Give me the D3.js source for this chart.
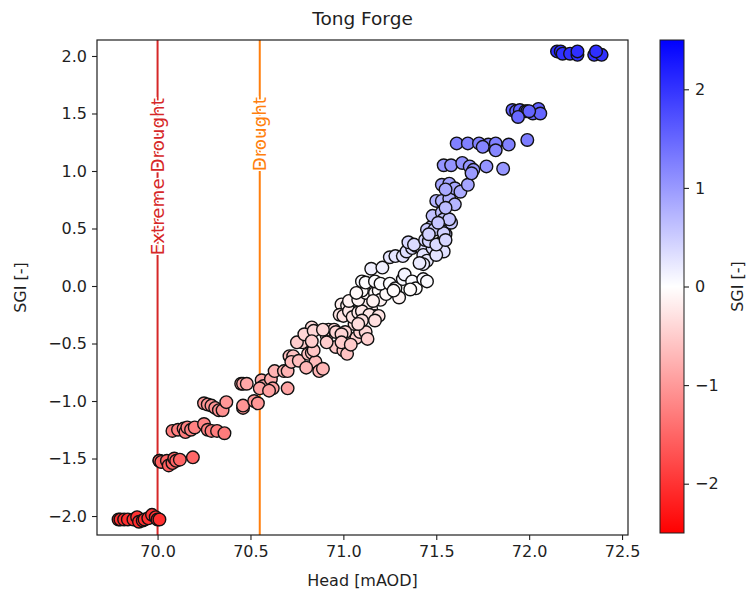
<!DOCTYPE html>
<html>
<head>
<meta charset="utf-8">
<script src="https://cdn.jsdelivr.net/npm/d3@7"></script>
<style>
  html, body { margin: 0; padding: 0; background: #fff; }
  svg { display: block; font-family: "DejaVu Sans", sans-serif; }
</style>
</head>
<body>
<svg id="chart" width="748" height="596"></svg>
<script>
// Groundwater head (mAOD) against Standardised Groundwater Index, Tong Forge
const head = [
  69.79, 69.80, 69.82, 69.84, 69.87, 69.89, 69.90, 69.92, 69.93, 69.95, 69.97, 69.99, 70.00, 70.01,
  70.01, 70.01, 70.02, 70.05, 70.06, 70.08, 70.09, 70.10, 70.12, 70.19,
  70.08, 70.11, 70.14, 70.15, 70.16, 70.18, 70.20, 70.25, 70.27, 70.29, 70.32, 70.36,
  70.25, 70.27, 70.29, 70.31, 70.33, 70.35, 70.37, 70.46, 70.46, 70.52, 70.54,
  70.45, 70.46, 70.48, 70.56, 70.57, 70.61, 70.55, 70.62, 70.60, 70.70, 70.63, 70.68, 70.70,
  70.71, 70.73, 70.72, 70.76, 70.81, 70.83, 70.85, 70.80, 70.87, 70.89, 70.84, 70.78, 70.75,
  70.83, 70.91, 70.92, 70.95, 70.96, 71.00, 71.02, 71.03, 71.07, 71.09, 71.06, 71.12, 71.13, 71.01,
  70.79, 70.84, 70.89, 70.96, 70.99, 70.83, 70.91, 70.99, 71.04,
  70.99, 71.02, 71.06, 71.09, 71.12, 71.15, 71.17, 71.10, 71.13, 70.98, 71.00, 71.03, 71.05, 71.08,
  71.10, 71.14, 71.19, 71.10, 71.17, 71.08,
  71.03, 71.08, 71.12, 71.17, 71.19, 71.20, 71.23, 71.16, 71.10, 71.07, 71.10, 71.12, 71.17, 71.20,
  71.25, 71.28, 71.30, 71.27, 71.32, 71.33, 71.37, 71.39, 71.36, 71.43, 71.45,
  71.15, 71.21, 71.25, 71.28, 71.32, 71.34, 71.37, 71.39, 71.42, 71.43, 71.45, 71.43, 71.41, 71.35,
  71.38, 71.48, 71.53, 71.54, 71.50,
  71.44, 71.46, 71.50, 71.47, 71.50, 71.53, 71.55, 71.55, 71.58, 71.45, 71.49, 71.54, 71.55, 71.46,
  71.48, 71.53, 71.54, 71.57, 71.51, 71.50, 71.53, 71.57, 71.60, 71.55, 71.53, 71.57, 71.60, 71.63,
  71.67, 71.55,
  71.54, 71.58, 71.64, 71.68, 71.70, 71.77, 71.86, 71.69,
  71.61, 71.67, 71.73, 71.78, 71.82, 71.89, 71.82, 71.75, 71.99,
  71.91, 71.93, 71.95, 71.98, 71.99, 72.02, 72.05, 72.06, 71.94, 72.00,
  72.15, 72.17, 72.18, 72.22, 72.26, 72.26, 72.35, 72.39, 72.36
];
const sgi = [
  -2.03, -2.03, -2.03, -2.03, -2.03, -2.01, -2.05, -2.04, -2.03, -2.02, -1.99, -2.01, -2.03, -2.03,
  -1.52, -1.52, -1.53, -1.52, -1.56, -1.54, -1.50, -1.52, -1.51, -1.49,
  -1.26, -1.25, -1.24, -1.27, -1.23, -1.25, -1.23, -1.20, -1.25, -1.26, -1.26, -1.28,
  -1.02, -1.03, -1.04, -1.06, -1.08, -1.08, -1.01, -1.06, -1.04, -1.00, -1.02,
  -0.85, -0.85, -0.85, -0.82, -0.87, -0.81, -0.89, -0.89, -0.91, -0.89, -0.74, -0.74, -0.74,
  -0.61, -0.61, -0.66, -0.65, -0.59, -0.58, -0.66, -0.71, -0.74, -0.72, -0.56, -0.49, -0.49,
  -0.36, -0.43, -0.38, -0.38, -0.53, -0.56, -0.59, -0.49, -0.45, -0.40, -0.33, -0.40, -0.46, -0.40,
  -0.42, -0.39, -0.38, -0.40, -0.42, -0.48, -0.49, -0.49, -0.51,
  -0.16, -0.17, -0.19, -0.16, -0.17, -0.20, -0.26, -0.25, -0.15, -0.25, -0.26, -0.22, -0.27, -0.23,
  -0.22, -0.25, -0.26, -0.30, -0.30, -0.33,
  -0.13, -0.12, -0.06, -0.06, -0.04, -0.12, -0.07, -0.13, -0.04, -0.06, 0.04, 0.03, 0.04, 0.02,
  0.02, -0.02, -0.10, -0.04, 0.06, 0.10, 0.04, -0.02, -0.03, 0.06, 0.04,
  0.15, 0.16, 0.25, 0.26, 0.26, 0.30, 0.33, 0.35, 0.33, 0.27, 0.22, 0.19, 0.20, 0.38,
  0.36, 0.33, 0.38, 0.30, 0.27,
  0.40, 0.39, 0.36, 0.51, 0.51, 0.48, 0.45, 0.53, 0.55, 0.49, 0.49, 0.46, 0.40, 0.45,
  0.61, 0.64, 0.58, 0.58, 0.55, 0.74, 0.74, 0.76, 0.71, 0.68, 0.88, 0.89, 0.85, 0.82,
  0.88, 0.84,
  1.05, 1.05, 1.07, 1.04, 1.01, 1.04, 1.02, 0.98,
  1.24, 1.24, 1.24, 1.23, 1.24, 1.23, 1.18, 1.21, 1.27,
  1.53, 1.52, 1.53, 1.52, 1.52, 1.50, 1.54, 1.50, 1.47, 1.52,
  2.04, 2.04, 2.02, 2.02, 2.01, 2.04, 2.01, 2.01, 2.04
];

// Drought thresholds on head
const thresholdNames = ["Extreme Drought", "Drought"];
const thresholdHeads = [70.0, 70.55];
const thresholdColors = ["#d62728", "#ff7f0e"];

const xTicks = [70.0, 70.5, 71.0, 71.5, 72.0, 72.5];
const yTicks = [-2.0, -1.5, -1.0, -0.5, 0.0, 0.5, 1.0, 1.5, 2.0];
const cbTicks = [-2, -1, 0, 1, 2];

const svg = d3.select("#chart");
const plot = { left: 97, right: 628, top: 40, bottom: 535 };

const x = d3.scaleLinear().domain([69.674, 72.532]).range([plot.left, plot.right]);
const y = d3.scaleLinear().domain([-2.165, 2.139]).range([plot.bottom, plot.top]);

// bwr_r style diverging colour map
const cmin = -2.5, cmax = 2.5;
const color = d3.scaleLinear().domain([cmin, 0, cmax])
  .range(["#ff0000", "#ffffff", "#0000ff"]).interpolate(d3.interpolateRgb);

const fmtMinus = s => s.replace("-", "\u2212");
const textColor = "#1f1f1f";
const tickFont = 16;

const clipId = "plotclip";
svg.append("clipPath").attr("id", clipId).append("rect")
  .attr("x", plot.left).attr("y", plot.top)
  .attr("width", plot.right - plot.left).attr("height", plot.bottom - plot.top);

// Threshold lines
const labelY = [0.95, 1.32];
thresholdHeads.forEach((h, i) => {
  svg.append("line")
    .attr("x1", x(h)).attr("x2", x(h))
    .attr("y1", plot.top).attr("y2", plot.bottom)
    .attr("stroke", thresholdColors[i]).attr("stroke-width", 2);
});

// Scatter points
const pts = head.map((h, i) => ({ h, s: sgi[i] }));
svg.append("g").attr("clip-path", `url(#${clipId})`)
  .selectAll("circle").data(pts).join("circle")
  .attr("cx", d => x(d.h)).attr("cy", d => y(d.s)).attr("r", 6.3)
  .attr("fill", d => color(d.s))
  .attr("stroke", "#111").attr("stroke-width", 1.4);

// Threshold labels drawn on top of the lines, with a white halo
thresholdHeads.forEach((h, i) => {
  const cx = x(h), cy = y(labelY[i]);
  svg.append("text")
    .attr("transform", `translate(${cx},${cy}) rotate(-90)`)
    .attr("text-anchor", "middle").attr("dominant-baseline", "central")
    .attr("font-size", 18.3)
    .attr("fill", thresholdColors[i])
    .attr("stroke", "#fff").attr("stroke-width", 3)
    .attr("paint-order", "stroke")
    .text(thresholdNames[i]);
});

// Axes
const xAxis = d3.axisBottom(x).tickValues(xTicks).tickFormat(d3.format(".1f")).tickSize(5).tickPadding(6);
const yAxis = d3.axisLeft(y).tickValues(yTicks).tickFormat(d => fmtMinus(d3.format(".1f")(d))).tickSize(5).tickPadding(5);

const gx = svg.append("g").attr("transform", `translate(0,${plot.bottom})`).call(xAxis);
const gy = svg.append("g").attr("transform", `translate(${plot.left},0)`).call(yAxis);
[gx, gy].forEach(g => {
  g.select(".domain").remove();
  g.selectAll("line").attr("stroke", textColor).attr("stroke-width", 1.1);
  g.selectAll("text").attr("font-size", tickFont).attr("fill", textColor).attr("font-family", "DejaVu Sans");
});

svg.append("rect")
  .attr("x", plot.left).attr("y", plot.top)
  .attr("width", plot.right - plot.left).attr("height", plot.bottom - plot.top)
  .attr("fill", "none").attr("stroke", textColor).attr("stroke-width", 1.2);

// Titles
svg.append("text").attr("x", (plot.left + plot.right) / 2).attr("y", 25)
  .attr("text-anchor", "middle").attr("font-size", 18.5).attr("fill", textColor).text("Tong Forge");
svg.append("text").attr("x", (plot.left + plot.right) / 2).attr("y", 586)
  .attr("text-anchor", "middle").attr("font-size", tickFont).attr("fill", textColor).text("Head [mAOD]");
svg.append("text").attr("transform", `translate(26,${(plot.top + plot.bottom) / 2}) rotate(-90)`)
  .attr("text-anchor", "middle").attr("font-size", tickFont).attr("fill", textColor).text("SGI [-]");

// Colour bar
const cb = { x: 660, w: 24, top: 40, bottom: 533 };
const cy = d3.scaleLinear().domain([cmin, cmax]).range([cb.bottom, cb.top]);
const defs = svg.append("defs");
const grad = defs.append("linearGradient").attr("id", "cbgrad")
  .attr("x1", 0).attr("y1", 1).attr("x2", 0).attr("y2", 0);
d3.range(0, 1.0001, 0.05).forEach(t => {
  grad.append("stop").attr("offset", t).attr("stop-color", color(cmin + t * (cmax - cmin)));
});
svg.append("rect").attr("x", cb.x).attr("y", cb.top).attr("width", cb.w)
  .attr("height", cb.bottom - cb.top).attr("fill", "url(#cbgrad)")
  .attr("stroke", textColor).attr("stroke-width", 1);
const cbAxis = d3.axisRight(cy).tickValues(cbTicks).tickFormat(d => fmtMinus(String(d))).tickSize(5).tickPadding(6);
const gcb = svg.append("g").attr("transform", `translate(${cb.x + cb.w},0)`).call(cbAxis);
gcb.select(".domain").remove();
gcb.selectAll("line").attr("stroke", textColor).attr("stroke-width", 1.1);
gcb.selectAll("text").attr("font-size", tickFont).attr("fill", textColor).attr("font-family", "DejaVu Sans");
svg.append("text").attr("transform", `translate(743,${(cb.top + cb.bottom) / 2}) rotate(-90)`)
  .attr("text-anchor", "middle").attr("font-size", tickFont).attr("fill", textColor).text("SGI [-]");
</script>
</body>
</html>
